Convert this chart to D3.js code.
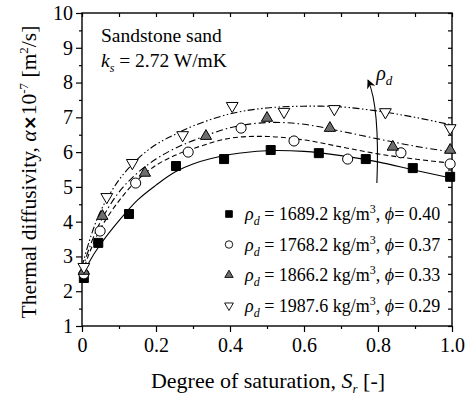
<!DOCTYPE html>
<html>
<head>
<meta charset="utf-8">
<script src="https://cdn.jsdelivr.net/npm/d3@7"></script>
<style>
  body { margin: 0; background: #fff; }
</style>
</head>
<body>
<div id="chart"></div>
<script>
// measured points (degree of saturation vs thermal diffusivity x1e-7)
const sr1 = [0.005, 0.044, 0.127, 0.254, 0.384, 0.51, 0.64, 0.767, 0.894, 0.995];
const a1  = [2.38, 3.39, 4.22, 5.60, 5.80, 6.06, 5.97, 5.80, 5.54, 5.29];
const sr2 = [0.005, 0.049, 0.145, 0.287, 0.43, 0.573, 0.718, 0.862, 0.995];
const a2  = [2.50, 3.73, 5.11, 6.00, 6.69, 6.32, 5.80, 5.98, 5.66];
const sr3 = [0.005, 0.055, 0.17, 0.335, 0.50, 0.67, 0.84, 0.995];
const a3  = [2.58, 4.16, 5.40, 6.46, 6.98, 6.69, 6.15, 6.06];
const sr4 = [0.005, 0.067, 0.136, 0.272, 0.406, 0.546, 0.682, 0.82, 0.995];
const a4  = [2.70, 4.71, 5.69, 6.49, 7.33, 7.16, 7.24, 7.15, 6.69];

// fitted curves
const fitX = [0, 0.02, 0.05, 0.1, 0.15, 0.2, 0.25, 0.3, 0.4, 0.5, 0.6, 0.7, 0.8, 0.9, 1.0];
const fit1 = [2.40, 2.85, 3.35, 4.03, 4.62, 5.05, 5.42, 5.66, 5.93, 6.04, 6.02, 5.90, 5.72, 5.48, 5.25];
const fit2 = [2.50, 3.10, 3.80, 4.60, 5.20, 5.62, 5.90, 6.10, 6.40, 6.45, 6.35, 6.15, 5.95, 5.80, 5.68];
const fit3 = [2.60, 3.25, 4.00, 4.85, 5.40, 5.80, 6.10, 6.33, 6.70, 6.85, 6.80, 6.60, 6.38, 6.17, 6.00];
const fit4 = [2.70, 3.45, 4.30, 5.20, 5.80, 6.22, 6.50, 6.75, 7.10, 7.27, 7.32, 7.30, 7.18, 7.00, 6.78];

const rhoLabels = ["1689.2", "1768.2", "1866.2", "1987.6"];
const phiLabels = ["0.40", "0.37", "0.33", "0.29"];

const xMajor = [0, 0.2, 0.4, 0.6, 0.8, 1.0];
const xMinor = [0.1, 0.3, 0.5, 0.7, 0.9];
const yMajor = [1, 2, 3, 4, 5, 6, 7, 8, 9, 10];
const yMinor = [1.5, 2.5, 3.5, 4.5, 5.5, 6.5, 7.5, 8.5, 9.5];

const FONT = "'Liberation Serif', 'Times New Roman', serif";
const W = 470, H = 397;
const margin = {top: 13, right: 18, bottom: 71, left: 82};

const svg = d3.select("#chart").append("svg")
    .attr("width", W)
    .attr("height", H)
    .style("font-family", FONT);

const x = d3.scaleLinear().domain([0, 1]).range([margin.left, W - margin.right]);
const y = d3.scaleLinear().domain([1, 10]).range([H - margin.bottom, margin.top]);

function fixText(g) {
  g.attr("font-family", null).attr("font-size", null);
  g.selectAll("text").style("font-family", FONT).style("font-size", "20px").attr("fill", "#000");
}

// bottom axis
svg.append("g")
    .attr("transform", "translate(0," + y(1) + ")")
    .call(d3.axisBottom(x).tickValues(xMajor).tickSize(6).tickPadding(6)
        .tickFormat(d => d === 0 ? "0" : d3.format(".1f")(d)))
    .call(g => g.select(".domain").remove())
    .call(fixText);
svg.append("g")
    .attr("transform", "translate(0," + y(1) + ")")
    .call(d3.axisBottom(x).tickValues(xMinor).tickSize(3).tickFormat(""))
    .call(g => g.select(".domain").remove());

// left axis
svg.append("g")
    .attr("transform", "translate(" + x(0) + ",0)")
    .call(d3.axisLeft(y).tickValues(yMajor).tickSize(6).tickPadding(3).tickFormat(d3.format("d")))
    .call(g => g.select(".domain").remove())
    .call(fixText);
svg.append("g")
    .attr("transform", "translate(" + x(0) + ",0)")
    .call(d3.axisLeft(y).tickValues(yMinor).tickSize(3).tickFormat(""))
    .call(g => g.select(".domain").remove());

// top and right mirror ticks, pointing inward
svg.append("g")
    .attr("transform", "translate(0," + y(10) + ")")
    .call(d3.axisBottom(x).tickValues(xMajor.concat(xMinor)).tickSize(4).tickFormat(""))
    .call(g => g.select(".domain").remove());
svg.append("g")
    .attr("transform", "translate(" + x(1) + ",0)")
    .call(d3.axisLeft(y).tickValues(yMajor.concat(yMinor)).tickSize(4).tickFormat(""))
    .call(g => g.select(".domain").remove());

svg.selectAll(".tick line").attr("stroke-width", 1.2);

// frame
svg.append("rect")
    .attr("x", x(0)).attr("y", y(10))
    .attr("width", x(1) - x(0)).attr("height", y(1) - y(10))
    .attr("fill", "none").attr("stroke", "#000").attr("stroke-width", 1.4);

// fitted curves
const line = d3.line()
    .x(d => x(d[0]))
    .y(d => y(d[1]))
    .curve(d3.curveCatmullRom);

const fits = [
  {v: fit1, dash: null},
  {v: fit2, dash: "5,3"},
  {v: fit3, dash: "7,3,1.5,3"},
  {v: fit4, dash: "7,2.5,1.5,2.5,1.5,2.5"}
];
fits.forEach(f => {
  svg.append("path")
      .datum(fitX.map((xv, i) => [xv, f.v[i]]))
      .attr("d", line)
      .attr("fill", "none")
      .attr("stroke", "#000")
      .attr("stroke-width", 1.1)
      .attr("stroke-dasharray", f.dash);
});

// markers
const series = [
  {sx: sr1, sy: a1, type: d3.symbolSquare, size: 81, fill: "#000", rot: 0},
  {sx: sr2, sy: a2, type: d3.symbolCircle, size: 80, fill: "#fff", rot: 0},
  {sx: sr3, sy: a3, type: d3.symbolTriangle, size: 55, fill: "#6e6e6e", rot: 0},
  {sx: sr4, sy: a4, type: d3.symbolTriangle, size: 60, fill: "#fff", rot: 180}
];
series.forEach(s => {
  svg.append("g").selectAll("path")
      .data(s.sx.map((xv, i) => [xv, s.sy[i]]))
      .enter().append("path")
      .attr("d", d3.symbol().type(s.type).size(s.size))
      .attr("transform", d => "translate(" + x(d[0]) + "," + y(d[1]) + ") rotate(" + s.rot + ")")
      .attr("fill", s.fill)
      .attr("stroke", "#000")
      .attr("stroke-width", 1);
});

// legend
const leg = svg.append("g");
series.forEach((s, i) => {
  const ly = 214 + i * 30.5;
  leg.append("path")
      .attr("d", d3.symbol().type(s.type).size(s.size * 0.55))
      .attr("transform", "translate(229," + ly + ") rotate(" + s.rot + ")")
      .attr("fill", s.fill)
      .attr("stroke", "#000")
      .attr("stroke-width", 0.9);
  const t = leg.append("text")
      .attr("x", 245).attr("y", ly + 6)
      .style("font-size", "18px");
  t.append("tspan").attr("font-style", "italic").text("ρ");
  t.append("tspan").attr("font-style", "italic").attr("dy", 5).style("font-size", "12px").text("d");
  t.append("tspan").attr("dy", -5).text(" = " + rhoLabels[i] + " kg/m");
  t.append("tspan").attr("dy", -7).style("font-size", "12px").text("3");
  t.append("tspan").attr("dy", 7).text(", ");
  t.append("tspan").attr("font-style", "italic").text("ϕ");
  t.append("tspan").text("= " + phiLabels[i]);
});

// annotation text
svg.append("text")
    .attr("x", 101).attr("y", 42)
    .style("font-size", "19.5px")
    .text("Sandstone sand");
const ks = svg.append("text")
    .attr("x", 101).attr("y", 67)
    .style("font-size", "19.5px");
ks.append("tspan").attr("font-style", "italic").text("k");
ks.append("tspan").attr("font-style", "italic").attr("dy", 5).style("font-size", "12px").text("s");
ks.append("tspan").attr("dy", -5).text(" = 2.72 W/mK");

// arrow showing increasing dry density
svg.append("defs").append("marker")
    .attr("id", "head")
    .attr("viewBox", "0 0 10 10")
    .attr("refX", 9).attr("refY", 5)
    .attr("markerWidth", 9).attr("markerHeight", 9)
    .attr("markerUnits", "userSpaceOnUse")
    .attr("orient", "auto")
  .append("path")
    .attr("d", "M0,0 L10,5 L0,10 L3,5 Z")
    .attr("fill", "#000");

const arrowPath = d3.path();
arrowPath.moveTo(x(0.797), y(5.11));
arrowPath.quadraticCurveTo(x(0.805), y(7.3), x(0.773), y(8.07));
svg.append("path")
    .attr("d", arrowPath.toString())
    .attr("fill", "none")
    .attr("stroke", "#000")
    .attr("stroke-width", 1.1)
    .attr("marker-end", "url(#head)");

const rl = svg.append("text")
    .attr("x", x(0.795)).attr("y", y(8.07))
    .style("font-size", "20px");
rl.append("tspan").attr("font-style", "italic").text("ρ");
rl.append("tspan").attr("font-style", "italic").attr("dy", 5).style("font-size", "13px").text("d");

// axis titles
const xt = svg.append("text")
    .attr("x", 268).attr("y", 388)
    .attr("text-anchor", "middle")
    .style("font-size", "22px");
xt.append("tspan").text("Degree of saturation, ");
xt.append("tspan").attr("font-style", "italic").text("S");
xt.append("tspan").attr("font-style", "italic").attr("dy", 5).style("font-size", "13px").text("r");
xt.append("tspan").attr("dy", -5).text(" [-]");

const yt = svg.append("text")
    .attr("transform", "translate(36,172) rotate(-90)")
    .attr("text-anchor", "middle")
    .style("font-size", "21.5px");
yt.append("tspan").text("Thermal diffusivity, ");
yt.append("tspan").attr("font-style", "italic").text("α");
yt.append("tspan").style("font-family", "'DejaVu Sans', sans-serif").style("font-weight", "bold").style("font-size", "18px").text("×");
yt.append("tspan").text("10");
yt.append("tspan").attr("dy", -8).style("font-size", "13px").text("-7");
yt.append("tspan").attr("dy", 8).text(" [m");
yt.append("tspan").attr("dy", -8).style("font-size", "13px").text("2");
yt.append("tspan").attr("dy", 8).text("/s]");
</script>
</body>
</html>
